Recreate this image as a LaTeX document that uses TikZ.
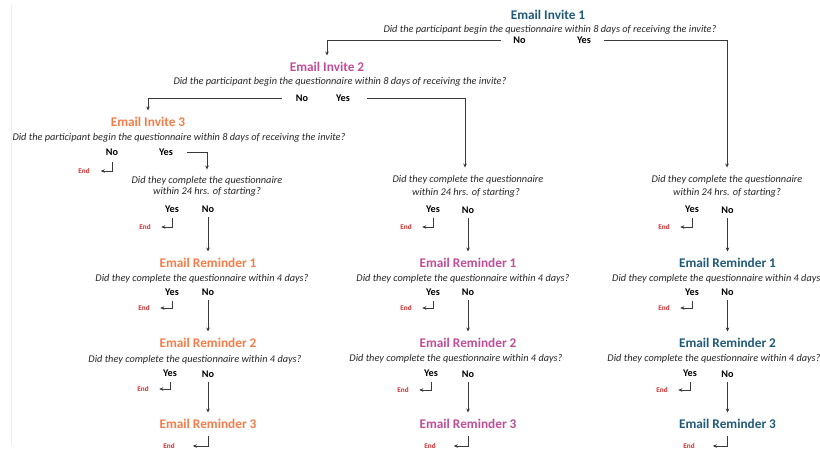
\documentclass[tikz,border=0pt]{standalone}
\usepackage{fontspec}
\setmainfont{Carlito}
\usetikzlibrary{arrows.meta}
\definecolor{cteal}{HTML}{1F5A7A}
\definecolor{cmag}{HTML}{C04D98}
\definecolor{corange}{HTML}{F47C48}
\definecolor{endred}{HTML}{D42A2A}
\definecolor{qgray}{HTML}{262626}
\definecolor{lgray}{HTML}{3A3A3A}
\definecolor{frame}{HTML}{EDEDED}
\begin{document}
\begin{tikzpicture}[x=1pt,y=-1pt,
  title/.style={font=\fontsize{13.3}{16}\selectfont\bfseries, inner sep=1pt, text height=8.6pt, text depth=0pt},
  ques/.style={font=\fontsize{10.3}{12}\selectfont\itshape, text=qgray, inner sep=1pt, text height=6.5pt, text depth=0pt},
  lab/.style={font=\fontsize{10.2}{12}\selectfont\bfseries, inner sep=1pt, text height=6.5pt, text depth=0pt},
  endlab/.style={font=\fontsize{7.2}{8}\selectfont\bfseries, text=endred, inner sep=1pt, text height=4.6pt, text depth=0pt},
  conn/.style={draw=lgray, line width=0.95pt, -{Stealth[length=4pt,width=3.6pt]}},
  toend/.style={conn, shorten <=4.5pt, shorten >=9.5pt},
  down/.style={conn, shorten <=4pt, shorten >=6pt}]
\useasboundingbox (0,0) rectangle (820,449);
\draw[frame, line width=0.8pt] (11.7,5) -- (11.7,445);

% ---- top level
\node[title, text=cteal] (inv1) at (548,15) {Email Invite 1};
\node[ques] (q1) at (550,29) {Did the participant begin the questionnaire within 8 days of receiving the invite?};
\node[lab] (no1) at (519.5,40) {No};
\node[lab] (yes1) at (584,40) {Yes};

\node[title, text=cmag] (inv2) at (327,67) {Email Invite 2};
\node[ques] (q2) at (340,81) {Did the participant begin the questionnaire within 8 days of receiving the invite?};
\node[lab] (no2) at (302,98.5) {No};
\node[lab] (yes2) at (343,98.5) {Yes};

\node[title, text=corange] (inv3) at (148,122) {Email Invite 3};
\node[ques] (q3) at (179,137) {Did the participant begin the questionnaire within 8 days of receiving the invite?};
\node[lab] (no3) at (112,152) {No};
\node[lab] (yes3) at (166,152) {Yes};
\node[endlab] (e0) at (84,171) {End};

% ---- column 1 (orange)
\node[ques] (c1) at (207,180) {Did they complete the questionnaire};
\node[ques] (c1b) at (207,191.5) {within 24 hrs. of starting?};
\node[lab] (y1c) at (172,209) {Yes};
\node[lab] (n1c) at (208,209) {No};
\node[endlab] (e1c) at (145,227) {End};
\node[title, text=corange] (r1a) at (208,263) {Email Reminder 1};
\node[ques] (qr1a) at (202,278.5) {Did they complete the questionnaire within 4 days?};
\node[lab] (y1r1) at (172,292) {Yes};
\node[lab] (n1r1) at (208,292) {No};
\node[endlab] (e1r1) at (144,308) {End};
\node[title, text=corange] (r2a) at (208,343) {Email Reminder 2};
\node[ques] (qr2a) at (195,359) {Did they complete the questionnaire within 4 days?};
\node[lab] (y1r2) at (170,373) {Yes};
\node[lab] (n1r2) at (208,374) {No};
\node[endlab] (e1r2) at (143,389) {End};
\node[title, text=corange] (r3a) at (208,424) {Email Reminder 3};
\node[endlab] (e1r3) at (169,446) {End};

% ---- column 2 (magenta)
\node[ques] (c2) at (468,179) {Did they complete the questionnaire};
\node[ques] (c2b) at (466,192.5) {within 24 hrs. of starting?};
\node[lab] (y2c) at (433,209) {Yes};
\node[lab] (n2c) at (468,210) {No};
\node[endlab] (e2c) at (406,227) {End};
\node[title, text=cmag] (r1b) at (468,263) {Email Reminder 1};
\node[ques] (qr1b) at (463,278) {Did they complete the questionnaire within 4 days?};
\node[lab] (y2r1) at (433,292) {Yes};
\node[lab] (n2r1) at (468,292) {No};
\node[endlab] (e2r1) at (406,308) {End};
\node[title, text=cmag] (r2b) at (468,343) {Email Reminder 2};
\node[ques] (qr2b) at (456,358) {Did they complete the questionnaire within 4 days?};
\node[lab] (y2r2) at (431,373) {Yes};
\node[lab] (n2r2) at (468,374) {No};
\node[endlab] (e2r2) at (403,390) {End};
\node[title, text=cmag] (r3b) at (468,424) {Email Reminder 3};
\node[endlab] (e2r3) at (430,446) {End};

% ---- column 3 (teal)
\node[ques] (c3) at (727,179) {Did they complete the questionnaire};
\node[ques] (c3b) at (727,192.5) {within 24 hrs. of starting?};
\node[lab] (y3c) at (692,209) {Yes};
\node[lab] (n3c) at (727.5,210) {No};
\node[endlab] (e3c) at (664,227) {End};
\node[title, text=cteal] (r1c) at (727.5,263) {Email Reminder 1};
\node[ques, anchor=west] (qr1c) at (611,278) {Did they complete the questionnaire within 4 days?};
\node[lab] (y3r1) at (692,292) {Yes};
\node[lab] (n3r1) at (727.5,292) {No};
\node[endlab] (e3r1) at (664,308) {End};
\node[title, text=cteal] (r2c) at (727.5,343) {Email Reminder 2};
\node[ques] (qr2c) at (714,358) {Did they complete the questionnaire within 4 days?};
\node[lab] (y3r2) at (690,373) {Yes};
\node[lab] (n3r2) at (727.5,374) {No};
\node[endlab] (e3r2) at (662,390) {End};
\node[title, text=cteal] (r3c) at (727.5,424) {Email Reminder 3};
\node[endlab] (e3r3) at (689,446) {End};

% ---- connectors: top branches
\draw[conn, shorten <=11pt, shorten >=6pt] (no1.west) -| (inv2.north);
\draw[conn, shorten <=12pt, shorten >=7pt] (yes1.east) -| (c3.north);
\draw[conn, shorten <=13pt, shorten >=6pt] (no2.west) -| (inv3.north);
\draw[conn, shorten <=16pt, shorten >=7pt] (yes2.east) -| ([xshift=-3pt]c2.north);
\draw[conn, shorten <=13pt, shorten >=6pt] (yes3.east) -| (c1.north);
\draw[conn, shorten <=6pt, shorten >=10pt] (no3.south) |- (e0.east);

% ---- column 1
\draw[toend] (y1c.south) |- (e1c.east);
\draw[down] (n1c.south) -- (r1a.north);
\draw[toend] (y1r1.south) |- (e1r1.east);
\draw[down] (n1r1.south) -- (r2a.north);
\draw[toend] (y1r2.south) |- (e1r2.east);
\draw[down] (n1r2.south) -- (r3a.north);
\draw[conn, shorten <=6.5pt, shorten >=17pt] (r3a.south) |- (e1r3.east);

% ---- column 2
\draw[toend] (y2c.south) |- (e2c.east);
\draw[down] (n2c.south) -- (r1b.north);
\draw[toend] (y2r1.south) |- (e2r1.east);
\draw[down] (n2r1.south) -- (r2b.north);
\draw[toend] (y2r2.south) |- (e2r2.east);
\draw[down] (n2r2.south) -- (r3b.north);
\draw[conn, shorten <=6.5pt, shorten >=17pt] (r3b.south) |- (e2r3.east);

% ---- column 3
\draw[toend] (y3c.south) |- (e3c.east);
\draw[down] (n3c.south) -- (r1c.north);
\draw[toend] (y3r1.south) |- (e3r1.east);
\draw[down] (n3r1.south) -- (r2c.north);
\draw[toend] (y3r2.south) |- (e3r2.east);
\draw[down] (n3r2.south) -- (r3c.north);
\draw[conn, shorten <=6.5pt, shorten >=17pt] (r3c.south) |- (e3r3.east);
\end{tikzpicture}
\end{document}
